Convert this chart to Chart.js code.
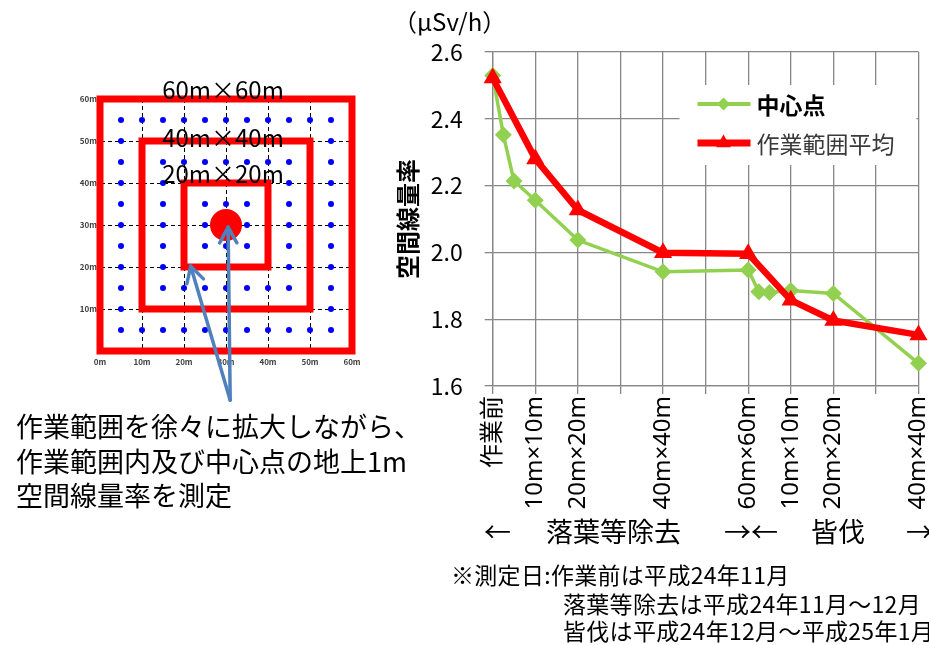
<!DOCTYPE html>
<html lang="ja">
<head>
<meta charset="utf-8">
<title>空間線量率の変化</title>
<script src="https://cdn.jsdelivr.net/npm/chart.js@4.4.1/dist/chart.umd.min.js"></script>
<style>
  html, body { margin: 0; padding: 0; background: #fff; }
  body { position: relative; width: 929px; height: 645px; overflow: hidden;
         font-family: 'Noto Sans CJK JP', sans-serif; color: #000; }
  canvas { position: absolute; }
  .t { position: absolute; white-space: nowrap; line-height: 1; }
  .size { position: absolute; white-space: nowrap; line-height: 1; font-size: 24px;
          transform: translate(-50%, -50%); }
  .note { font-size: 23px; letter-spacing: 0.3px; }
</style>
</head>
<body>
<canvas id="area" width="380" height="350" style="left:0;top:60px"></canvas>
<canvas id="rate" width="549" height="512" style="left:380px;top:0"></canvas>

<div class="size" style="left:223px;top:89px">60m×60m</div>
<div class="size" style="left:223px;top:137px">40m×40m</div>
<div class="size" style="left:223px;top:173px">20m×20m</div>

<div class="t" style="left:16px;top:409px;font-size:27px;line-height:34.5px">作業範囲を徐々に拡大しながら、<br>作業範囲内及び中心点の地上1m<br>空間線量率を測定</div>

<div class="t" style="left:393px;top:9px;font-size:24px">（µSv/h）</div>

<div class="t" style="left:484px;top:517px;font-size:27px">←</div>
<div class="t" style="left:546px;top:517px;font-size:27px">落葉等除去</div>
<div class="t" style="left:724px;top:517px;font-size:27px">→←</div>
<div class="t" style="left:811px;top:517px;font-size:27px">皆伐</div>
<div class="t" style="left:906px;top:517px;font-size:27px">→</div>

<div class="t note" style="left:451px;top:563px">※測定日:作業前は平成24年11月</div>
<div class="t note" style="left:563px;top:592px">落葉等除去は平成24年11月～12月</div>
<div class="t note" style="left:563px;top:619px">皆伐は平成24年12月～平成25年1月</div>

<script>
// right chart: measurement stages on a linear axis
const stageTicks = [0, 1, 2, 3, 4, 5, 6, 7, 8, 9, 10];
const stageLabels = ['作業前', '10m×10m', '20m×20m', '', '40m×40m', '', '60m×60m', '10m×10m', '20m×20m', '', '40m×40m'];
const rateTicks = [1.6, 1.8, 2.0, 2.2, 2.4, 2.6];
const seriesNames = ['中心点', '作業範囲平均'];
const centerX = [0, 0.25, 0.5, 1, 2, 4, 6, 6.25, 6.5, 7, 8, 10];
const centerRate = [2.53, 2.352, 2.214, 2.156, 2.037, 1.942, 1.947, 1.882, 1.880, 1.886, 1.877, 1.668];
const averageX = [0, 1, 2, 4, 6, 7, 8, 10];
const averageRate = [2.522, 2.28, 2.127, 1.999, 1.996, 1.857, 1.796, 1.753];

// left diagram: measuring grid in metres
const meterTicks = [0, 10, 20, 30, 40, 50, 60];
const pointMeters = [0, 5, 10, 15, 20, 25, 30, 35, 40, 45, 50, 55, 60];
const areaSizes = [60, 40, 20];
const areaCenter = [30, 30];
const arrowTail = [31, -11.7];
const arrowTips = [[30.5, 29.5], [21.6, 20.2]];

Chart.defaults.font.family = "'Noto Sans CJK JP', 'Noto Sans', sans-serif";
Chart.defaults.color = '#000';

const zip = (xs, ys) => xs.map((x, i) => ({ x: x, y: ys[i] }));

const squarePath = size => {
  const [cx, cy] = areaCenter;
  const h = size / 2;
  return [
    { x: cx, y: cy - h }, { x: cx + h, y: cy - h }, { x: cx + h, y: cy + h },
    { x: cx - h, y: cy + h }, { x: cx - h, y: cy - h }, { x: cx, y: cy - h }
  ];
};

const gridPoints = [];
pointMeters.forEach(py => pointMeters.forEach(px => gridPoints.push({ x: px, y: py })));

const noPadding = scale => { scale.paddingLeft = 0; scale.paddingRight = 0; scale.paddingTop = 0; scale.paddingBottom = 0; };

const arrows = {
  id: 'arrows',
  afterDraw(chart) {
    const { ctx, scales: { x, y } } = chart;
    const tx = x.getPixelForValue(arrowTail[0]);
    const ty = y.getPixelForValue(arrowTail[1]);
    ctx.save();
    ctx.strokeStyle = '#4f81bd';
    ctx.lineWidth = 3.5;
    ctx.lineCap = 'round';
    ctx.lineJoin = 'round';
    arrowTips.forEach(([vx, vy]) => {
      const px = x.getPixelForValue(vx);
      const py = y.getPixelForValue(vy);
      const ang = Math.atan2(py - ty, px - tx);
      ctx.beginPath();
      ctx.moveTo(tx, ty);
      ctx.lineTo(px, py);
      ctx.stroke();
      ctx.beginPath();
      ctx.moveTo(px - 18 * Math.cos(ang - 0.5), py - 18 * Math.sin(ang - 0.5));
      ctx.lineTo(px, py);
      ctx.lineTo(px - 18 * Math.cos(ang + 0.5), py - 18 * Math.sin(ang + 0.5));
      ctx.stroke();
    });
    ctx.restore();
  }
};

new Chart(document.getElementById('area'), {
  type: 'scatter',
  data: {
    datasets: [
      ...areaSizes.map(s => ({
        data: squarePath(s),
        showLine: true,
        borderColor: '#ff0000',
        borderWidth: 7,
        borderJoinStyle: 'miter',
        pointRadius: 0,
        clip: false,
        order: 1
      })),
      {
        data: [{ x: areaCenter[0], y: areaCenter[1] }],
        backgroundColor: '#ff0000',
        borderWidth: 0,
        pointRadius: 16,
        clip: false,
        order: 0
      },
      {
        data: gridPoints,
        backgroundColor: '#0000ff',
        borderWidth: 0,
        pointRadius: 3,
        clip: false,
        order: 3
      }
    ]
  },
  options: {
    responsive: false,
    animation: false,
    events: [],
    layout: { padding: { left: 0, right: 28, top: 39, bottom: 0 } },
    plugins: { legend: { display: false }, tooltip: { enabled: false } },
    scales: {
      x: {
        type: 'linear', min: 0, max: 60,
        afterBuildTicks: s => { s.ticks = meterTicks.map(v => ({ value: v })); },
        afterFit: s => { s.height = 59; noPadding(s); },
        grid: { color: '#000', lineWidth: 1, drawTicks: false },
        border: { color: '#000', width: 1.5, dash: [4, 3] },
        ticks: {
          padding: 6, maxRotation: 0, autoSkip: false,
          color: '#404040', font: { size: 8, weight: 'bold' },
          callback: v => v + 'm'
        }
      },
      y: {
        type: 'linear', min: 0, max: 60,
        afterBuildTicks: s => { s.ticks = meterTicks.map(v => ({ value: v })); },
        afterFit: s => { s.width = 100; noPadding(s); },
        grid: { color: '#000', lineWidth: 1, drawTicks: false },
        border: { color: '#000', width: 1, dash: [4, 3] },
        ticks: {
          padding: 3, autoSkip: false,
          color: '#404040', font: { size: 8, weight: 'bold' },
          callback: v => (v === 0 ? '' : v + 'm')
        }
      }
    }
  },
  plugins: [arrows]
});

const legendBox = {
  id: 'legendBox',
  afterDraw(chart) {
    const { ctx, chartArea } = chart;
    const left = chartArea.right - 239;
    const top = 85;
    ctx.save();
    ctx.fillStyle = '#fff';
    ctx.fillRect(left, top, 237, 80);
    chart.data.datasets.forEach((ds, i) => {
      const y = top + 19 + i * 39;
      const mx = left + 44;
      const r = ds.legendRadius;
      ctx.strokeStyle = ds.borderColor;
      ctx.fillStyle = ds.borderColor;
      ctx.lineWidth = ds.legendLine;
      ctx.beginPath();
      ctx.moveTo(left + 18, y);
      ctx.lineTo(left + 71, y);
      ctx.stroke();
      ctx.beginPath();
      if (ds.pointStyle === 'triangle') {
        ctx.moveTo(mx, y - r);
        ctx.lineTo(mx + r * Math.cos(Math.PI / 6), y + r / 2);
        ctx.lineTo(mx - r * Math.cos(Math.PI / 6), y + r / 2);
      } else {
        ctx.moveTo(mx, y - r);
        ctx.lineTo(mx + r, y);
        ctx.lineTo(mx, y + r);
        ctx.lineTo(mx - r, y);
      }
      ctx.closePath();
      ctx.fill();
      ctx.font = (i === 0 ? 'bold ' : '') + "23px 'Noto Sans CJK JP'";
      ctx.fillStyle = i === 0 ? '#000' : '#3a3a3a';
      ctx.textBaseline = 'middle';
      ctx.fillText(ds.label, left + 77, y + 1);
    });
    ctx.restore();
  }
};

new Chart(document.getElementById('rate'), {
  type: 'scatter',
  data: {
    datasets: [
      {
        label: seriesNames[0],
        data: zip(centerX, centerRate),
        showLine: true,
        borderColor: '#92d050',
        backgroundColor: '#92d050',
        borderWidth: 3.5,
        pointStyle: 'rectRot',
        pointRadius: 8.5,
        pointBorderWidth: 0,
        legendLine: 4,
        legendRadius: 6.5,
        clip: false,
        order: 1
      },
      {
        label: seriesNames[1],
        data: zip(averageX, averageRate),
        showLine: true,
        borderColor: '#ff0000',
        backgroundColor: '#ff0000',
        borderWidth: 6.5,
        borderJoinStyle: 'round',
        pointStyle: 'triangle',
        pointRadius: 10.5,
        pointBorderWidth: 0,
        legendLine: 7,
        legendRadius: 8.5,
        clip: false,
        order: 0
      }
    ]
  },
  options: {
    responsive: false,
    animation: false,
    events: [],
    layout: { padding: { left: 0, right: 5.3, top: 52, bottom: 0 } },
    plugins: { legend: { display: false }, tooltip: { enabled: false } },
    scales: {
      x: {
        type: 'linear', min: 0, max: 10,
        afterBuildTicks: s => { s.ticks = stageTicks.map(v => ({ value: v })); },
        afterFit: s => { s.height = 512 - 386; noPadding(s); },
        grid: { color: '#878787', lineWidth: 1.3, tickLength: 8 },
        border: { color: '#878787', width: 1.3 },
        ticks: {
          padding: 2, autoSkip: false, minRotation: 90, maxRotation: 90,
          font: { size: 24, family: "'Noto Sans', 'Noto Sans CJK JP', sans-serif" },
          callback: v => stageLabels[stageTicks.indexOf(v)] || ''
        }
      },
      y: {
        type: 'linear', min: 1.6, max: 2.6,
        afterBuildTicks: s => { s.ticks = rateTicks.map(v => ({ value: v })); },
        afterFit: s => { s.width = 112.7; noPadding(s); },
        grid: { color: '#878787', lineWidth: 1.3, tickLength: 8 },
        border: { color: '#878787', width: 1.3 },
        title: {
          display: true, text: '空間線量率',
          font: { size: 24, weight: 'bold' },
          padding: { top: 13, bottom: 0 }
        },
        ticks: {
          padding: 22, autoSkip: false,
          font: { size: 23 },
          callback: v => v.toFixed(1)
        }
      }
    }
  },
  plugins: [legendBox]
});
</script>
</body>
</html>
